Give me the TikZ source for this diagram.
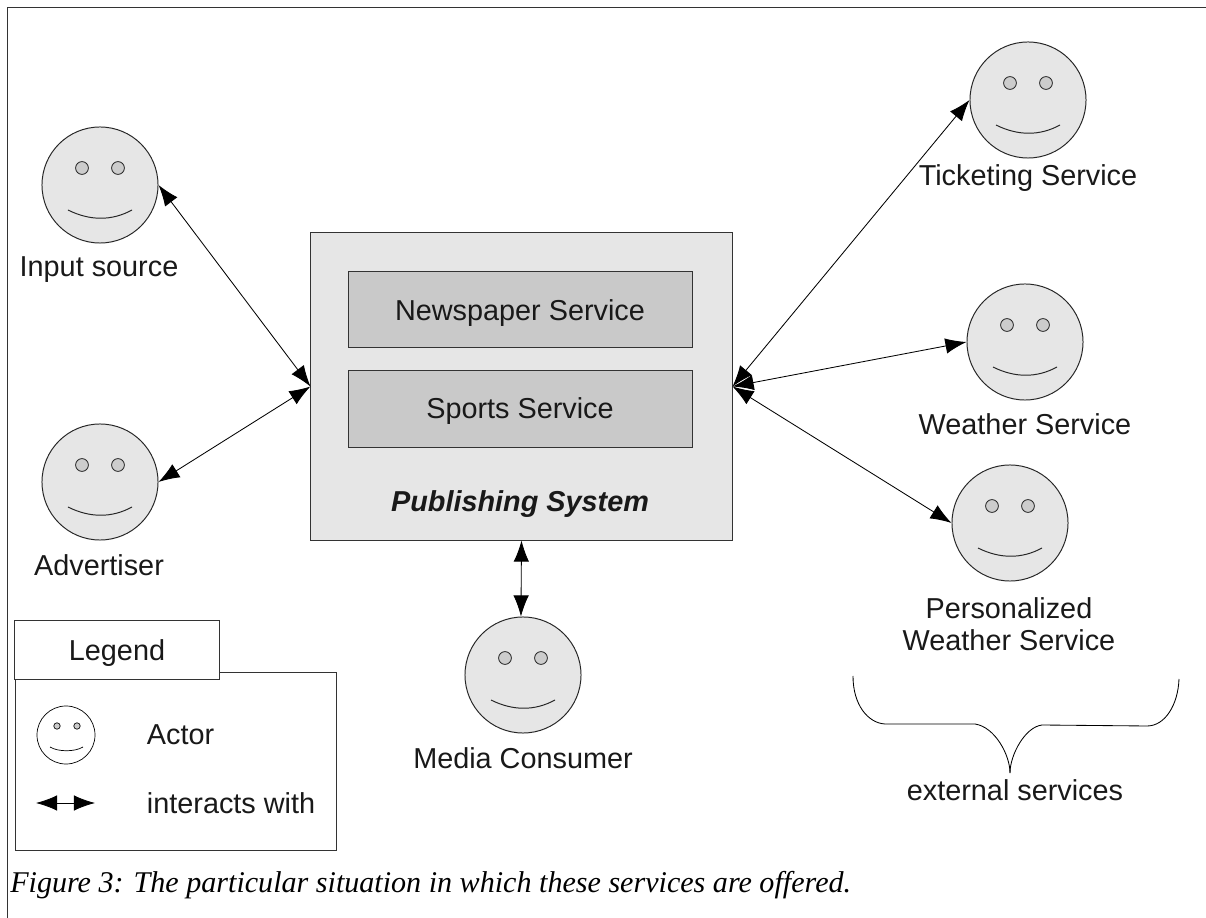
\documentclass[tikz,border=0pt]{standalone}
\usepackage{fontspec}
\setmainfont{Liberation Sans}
\newfontfamily\captionfont{Liberation Serif}
\usetikzlibrary{arrows.meta}
\definecolor{facegray}{HTML}{E6E6E6}
\definecolor{eyegray}{HTML}{CCCCCC}
\definecolor{linegray}{HTML}{333333}
\tikzset{
	face/.style={circle, draw=black!85, fill=facegray, line width=0.7pt, minimum size=2.9cm, inner sep=0pt},
	eye/.style={circle, draw=black!85, fill=eyegray, line width=0.6pt, minimum size=0.32cm, inner sep=0pt},
	link/.style={{Latex[length=15pt,width=11pt]}-{Latex[length=15pt,width=11pt]}, line width=0.6pt, black},
	label/.style={font=\fontsize{20.5}{23}\selectfont, align=center, text=black!90},
	box/.style={draw=linegray, line width=0.7pt}
}
\begin{document}
\begin{tikzpicture}[x=0.025cm, y=-0.025cm]
	\useasboundingbox (0,0) rectangle (1206,918);
	\draw[box] (7,918) -- (7,7) -- (1206,7);

	% publishing system
	\node[box, fill=facegray, minimum width=10.525cm, minimum height=7.675cm] (pub) at (521.5,386.5) {};
	\node[box, fill=black!21, minimum width=8.6cm, minimum height=1.9cm] (news) at (520.5,309.5) {};
	\node[box, fill=black!21, minimum width=8.6cm, minimum height=1.9cm] (sports) at (520.5,409) {};
	\node[label] (newsname) at (520,313) {Newspaper Service};
	\node[label] (sportsname) at (520,411) {Sports Service};
	\node[label] (pubname) at (520,504) {\bfseries\itshape Publishing System};

	% actors
	\foreach \name/\x/\y in {input/100/185, adv/100/482, media/523/675, ticket/1028/100, weather/1025/342, perso/1010/523} {
		\node[face] (\name) at (\x,\y) {};
		\node[eye] (\name eyeL) at (\x-18,\y-17) {};
		\node[eye] (\name eyeR) at (\x+18,\y-17) {};
		\draw[line width=0.7pt, black!85] (\x-32,\y+25) .. controls (\x-10,\y+36) and (\x+12,\y+36) .. (\x+32,\y+25);
	}
	\node[label] (inputname) at (99,270) {Input source};
	\node[label] (advname) at (99,565) {Advertiser};
	\node[label] (medianame) at (523,758) {Media Consumer};
	\node[label] (ticketname) at (1028,178) {Ticketing Service};
	\node[label] (weathername) at (1025,424) {Weather Service};
	\node[label] (personame) at (1009,624) {Personalized\\Weather Service};

	% connectors
	\draw[link] (input.east) -- (pub.west);
	\draw[link] (adv.east) -- (pub.west);
	\draw[link] (ticket.west) -- (pub.east);
	\draw[link] (weather.west) -- (pub.east);
	\draw[link] (perso.west) -- (pub.east);
	\draw[link] (pub.south) -- (media.92);

	% brace
	\coordinate (bracetip) at (1010,773);
	\draw[line width=0.6pt] (853,676) .. controls (853,705) and (868,723) .. (885,724) -- (975,724) .. controls (995,727) and (1010,755) .. (bracetip);
	\draw[line width=0.6pt] (1179,679) .. controls (1178,705) and (1165,726) .. (1147,726) -- (1042,725) .. controls (1025,727) and (1010,755) .. (bracetip);
	\node[label] (extname) at (1015,790) {external services};

	% legend
	\node[box, fill=white, minimum width=8cm, minimum height=4.425cm] (legend) at (176,761.5) {};
	\node[box, fill=white, minimum width=5.1cm, minimum height=1.45cm] (legendbox) at (117,650) {};
	\node[label] (legendname) at (117,653) {Legend};
	\node[circle, draw=black, line width=0.5pt, minimum size=1.45cm, inner sep=0pt] (lface) at (66,735) {};
	\node[eye, minimum size=0.16cm] (leyeL) at (57,726) {};
	\node[eye, minimum size=0.16cm] (leyeR) at (77,726) {};
	\draw[line width=0.5pt] (50,747) .. controls (58,752) and (75,752) .. (83,747);
	\node[label, anchor=west] (actorname) at (142,735) {Actor};
	\coordinate (larrowL) at (36,803);
	\coordinate (larrowR) at (95,803);
	\draw[link] (larrowL) -- (larrowR);
	\node[label, anchor=west] (intername) at (142,803) {interacts with};

	% caption
	\node[anchor=west, inner sep=0pt, font=\captionfont\itshape\fontsize{21.4}{25}\selectfont] (caption) at (10,885.5) {Figure 3: The particular situation in which these services are offered.};
\end{tikzpicture}
\end{document}
